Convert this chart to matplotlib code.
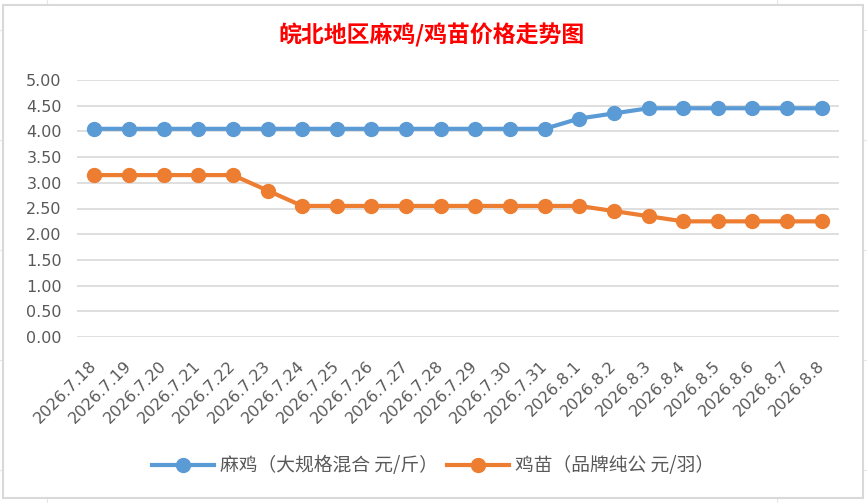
import matplotlib.pyplot as plt
from matplotlib.patches import Rectangle
from matplotlib.lines import Line2D

# Data
dates = ['2026.7.18', '2026.7.19', '2026.7.20', '2026.7.21', '2026.7.22', '2026.7.23',
         '2026.7.24', '2026.7.25', '2026.7.26', '2026.7.27', '2026.7.28', '2026.7.29',
         '2026.7.30', '2026.7.31', '2026.8.1', '2026.8.2', '2026.8.3', '2026.8.4',
         '2026.8.5', '2026.8.6', '2026.8.7', '2026.8.8']
maji = [4.05, 4.05, 4.05, 4.05, 4.05, 4.05, 4.05, 4.05, 4.05, 4.05, 4.05, 4.05,
        4.05, 4.05, 4.25, 4.35, 4.45, 4.45, 4.45, 4.45, 4.45, 4.45]
jimiao = [3.15, 3.15, 3.15, 3.15, 3.15, 2.85, 2.55, 2.55, 2.55, 2.55, 2.55, 2.55,
          2.55, 2.55, 2.55, 2.45, 2.35, 2.25, 2.25, 2.25, 2.25, 2.25]
yticks = [0, 0.5, 1.0, 1.5, 2.0, 2.5, 3.0, 3.5, 4.0, 4.5, 5.0]
labels = ['麻鸡（大规格混合 元/斤）', '鸡苗（品牌纯公 元/羽）']
title = '皖北地区麻鸡/鸡苗价格走势图'

cjk = ['Noto Sans CJK SC', 'DejaVu Sans']
gray_text = '#595959'

fig = plt.figure(figsize=(8.67, 5.03), dpi=100)

# faint spreadsheet cell lines behind the chart
for x in [47 / 867, 777 / 867]:
    fig.add_artist(Line2D([x, x], [0, 1], color='#E6E6E6', lw=0.8, zorder=0))
for y in [30, 140, 250, 360, 470]:
    fig.add_artist(Line2D([0, 1], [1 - y / 503, 1 - y / 503], color='#E6E6E6', lw=0.8, zorder=0))

# chart area
fig.add_artist(Rectangle((3 / 867, 1 - 498 / 503), 860 / 867, 493 / 503,
                         facecolor='white', edgecolor='#D9D9D9', lw=1.5, zorder=0.5))

ax = fig.add_axes([77 / 867, 1 - 337 / 503, 762 / 867, 257 / 503])
ax.set_zorder(2)
ax.set_facecolor('none')
x = list(range(len(dates)))

ax.plot(x, maji, color='#5B9BD5', lw=3, marker='o', ms=10, label=labels[0], zorder=3)
ax.plot(x, jimiao, color='#ED7D31', lw=3, marker='o', ms=10, label=labels[1], zorder=3)

ax.set_xlim(-0.5, len(dates) - 0.5)
ax.set_ylim(0, 5)
ax.set_yticks(yticks)
ax.set_yticklabels([f'{v:.2f}' for v in yticks], fontsize=11.5, color=gray_text)
ax.set_xticks(x)
ax.set_xticklabels(dates, rotation=45, ha='right', va='center', rotation_mode='anchor',
                   fontsize=11.5, color=gray_text)
ax.tick_params(axis='both', length=0)
ax.tick_params(axis='x', pad=19)
ax.tick_params(axis='y', pad=11)
ax.grid(axis='y', color='#D9D9D9', lw=1.2)
for s in ax.spines.values():
    s.set_visible(False)

fig.text(432 / 867, 1 - 35 / 503, title, color='red', fontsize=16.5, fontweight='bold',
         family=cjk, ha='center', va='center', zorder=3)

leg = fig.legend(loc='center', bbox_to_anchor=(433 / 867, 1 - 466 / 503), ncol=2,
                 frameon=False, prop={'family': cjk, 'size': 13.5}, handlelength=3.3,
                 columnspacing=0.5, handletextpad=0.3)
leg.set_zorder(3)
for t in leg.get_texts():
    t.set_color(gray_text)

fig.savefig('out.png', dpi=100)
